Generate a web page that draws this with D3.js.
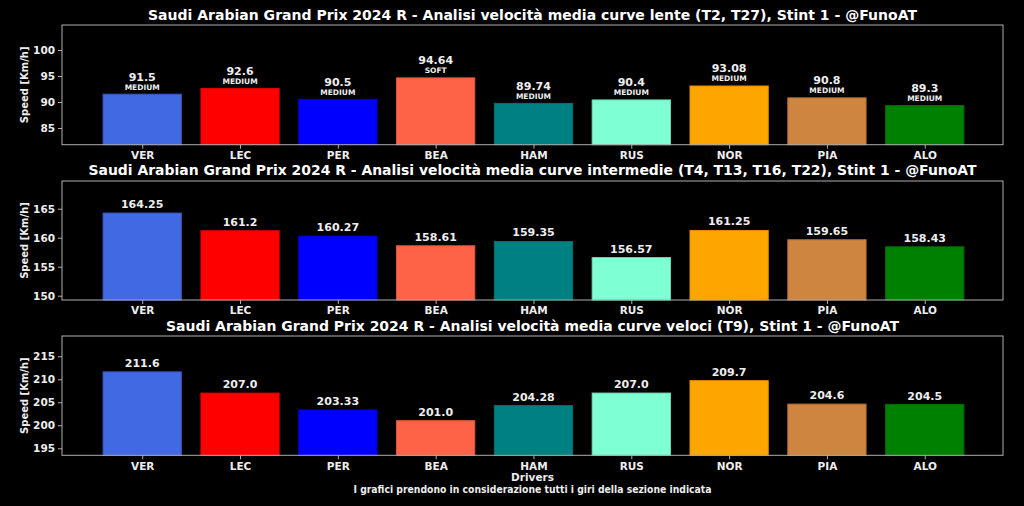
<!DOCTYPE html>
<html><head><meta charset="utf-8">
<script src="https://cdn.jsdelivr.net/npm/d3@7"></script>
<style>html,body{margin:0;padding:0;background:#000;}svg{display:block;}</style>
</head><body>
<script>
const drivers = ["VER","LEC","PER","BEA","HAM","RUS","NOR","PIA","ALO"];
const colors = ["#4169e1","#ff0000","#0000ff","#ff6347","#008080","#7fffd4","#ffa500","#cd853f","#008000"];
const slowSpeeds = [91.5, 92.6, 90.5, 94.64, 89.74, 90.4, 93.08, 90.8, 89.3];
const slowCompounds = ["MEDIUM","MEDIUM","MEDIUM","SOFT","MEDIUM","MEDIUM","MEDIUM","MEDIUM","MEDIUM"];
const midSpeeds = [164.25, 161.2, 160.27, 158.61, 159.35, 156.57, 161.25, 159.65, 158.43];
const fastSpeeds = [211.6, 207.0, 203.33, 201.0, 204.28, 207.0, 209.7, 204.6, 204.5];
const slowTicks = [85, 90, 95, 100];
const midTicks = [150, 155, 160, 165];
const fastTicks = [195, 200, 205, 210, 215];
const titles = [
  "Saudi Arabian Grand Prix 2024 R - Analisi velocità media curve lente (T2, T27), Stint 1 - @FunoAT",
  "Saudi Arabian Grand Prix 2024 R - Analisi velocità media curve intermedie (T4, T13, T16, T22), Stint 1 - @FunoAT",
  "Saudi Arabian Grand Prix 2024 R - Analisi velocità media curve veloci (T9), Stint 1 - @FunoAT"
];
const yLabel = "Speed [Km/h]";
const xLabel = "Drivers";
const footnote = "I grafici prendono in considerazione tutti i giri della sezione indicata";

const W = 1024, H = 506;
const FONT = "'DejaVu Sans', sans-serif";
const TXT = "#eeeeee", SPINE = "#b0b0b0";
const svg = d3.select("body").append("svg").attr("width", W).attr("height", H);
svg.append("rect").attr("width", W).attr("height", H).attr("fill", "#000");

const left = 62, right = 1003;
const x = d3.scaleLinear().domain([-0.82, 8.8]).range([left, right]);
const barW = (x(0.4) - x(-0.4));

const panels = [
  {vals: slowSpeeds, comp: slowCompounds, ticks: slowTicks, dom: [81.8, 104.8], top: 25, bottom: 144.7, title: titles[0], tY: 20, tW: 769},
  {vals: midSpeeds, comp: null, ticks: midTicks, dom: [149.26, 169.78], top: 181, bottom: 300, title: titles[1], tY: 175, tW: 888},
  {vals: fastSpeeds, comp: null, ticks: fastTicks, dom: [193.48, 219.4], top: 336, bottom: 455.3, title: titles[2], tY: 330.5, tW: 733}
];

function fmt(v){ const r = Math.round(v*100)/100; return Number.isInteger(r) ? r.toFixed(1) : String(r); }

panels.forEach(p => {
  const y = d3.scaleLinear().domain(p.dom).range([p.bottom, p.top]);
  const g = svg.append("g");
  g.selectAll("rect.bar").data(p.vals).join("rect")
    .attr("x", (d,i) => x(i) - barW/2)
    .attr("width", barW)
    .attr("y", d => y(d))
    .attr("height", d => p.bottom - y(d))
    .attr("fill", (d,i) => colors[i])
    .attr("stroke", (d,i) => d3.color(colors[i]).darker(0.4))
    .attr("stroke-width", 1);
  if (p.comp) {
    g.selectAll("text.val").data(p.vals).join("text")
      .attr("x", (d,i) => x(i)).attr("y", d => y(d) - 13.5)
      .attr("text-anchor","middle").attr("fill", TXT)
      .style("font-family", FONT).style("font-size","11px").style("font-weight","bold")
      .text(d => fmt(d));
    g.selectAll("text.comp").data(p.comp).join("text")
      .attr("x", (d,i) => x(i)).attr("y", (d,i) => y(p.vals[i]) - 4.5)
      .attr("text-anchor","middle").attr("fill", TXT)
      .style("font-family", FONT).style("font-size","7.5px").style("font-weight","bold")
      .text(d => d);
  } else {
    g.selectAll("text.val").data(p.vals).join("text")
      .attr("x", (d,i) => x(i)).attr("y", d => y(d) - 5)
      .attr("text-anchor","middle").attr("fill", TXT)
      .style("font-family", FONT).style("font-size","11px").style("font-weight","bold")
      .text(d => fmt(d));
  }
  const ya = d3.axisLeft(y).tickValues(p.ticks).tickSize(4).tickPadding(3);
  const yg = g.append("g").attr("transform", `translate(${left},0)`).call(ya);
  const xa = d3.axisBottom(x).tickValues(d3.range(drivers.length)).tickFormat(i => drivers[i]).tickSize(4).tickPadding(3);
  const xg = g.append("g").attr("transform", `translate(0,${p.bottom})`).call(xa);
  [yg, xg].forEach(a => {
    a.select(".domain").remove();
    a.selectAll(".tick line").attr("stroke", SPINE);
    a.selectAll(".tick text").attr("fill", TXT).style("font-family", FONT).style("font-size","10.5px").style("font-weight","bold");
  });
  g.append("rect").attr("x", left).attr("y", p.top).attr("width", right-left).attr("height", p.bottom-p.top)
    .attr("fill","none").attr("stroke", SPINE).attr("stroke-width", 1);
  g.append("text").attr("transform", `translate(28,${(p.top+p.bottom)/2}) rotate(-90)`)
    .attr("text-anchor","middle").attr("fill", TXT)
    .style("font-family", FONT).style("font-size","10px").style("font-weight","bold")
    .text(yLabel);
  g.append("text").attr("x", (left+right)/2).attr("y", p.tY)
    .attr("text-anchor","middle").attr("fill", "#ffffff")
    .style("font-family", FONT).style("font-size","14px").style("font-weight","bold")
    .attr("textLength", p.tW).attr("lengthAdjust","spacingAndGlyphs")
    .text(p.title);
});

svg.append("text").attr("x", 532.5).attr("y", 480.5).attr("text-anchor","middle").attr("fill", TXT)
  .style("font-family", FONT).style("font-size","10.5px").style("font-weight","bold").text(xLabel);
svg.append("text").attr("x", 532.5).attr("y", 492.5).attr("text-anchor","middle").attr("fill", TXT)
  .style("font-family", FONT).style("font-size","10px").style("font-weight","bold")
  .attr("textLength", 358).attr("lengthAdjust","spacingAndGlyphs").text(footnote);
</script>
</body></html>
